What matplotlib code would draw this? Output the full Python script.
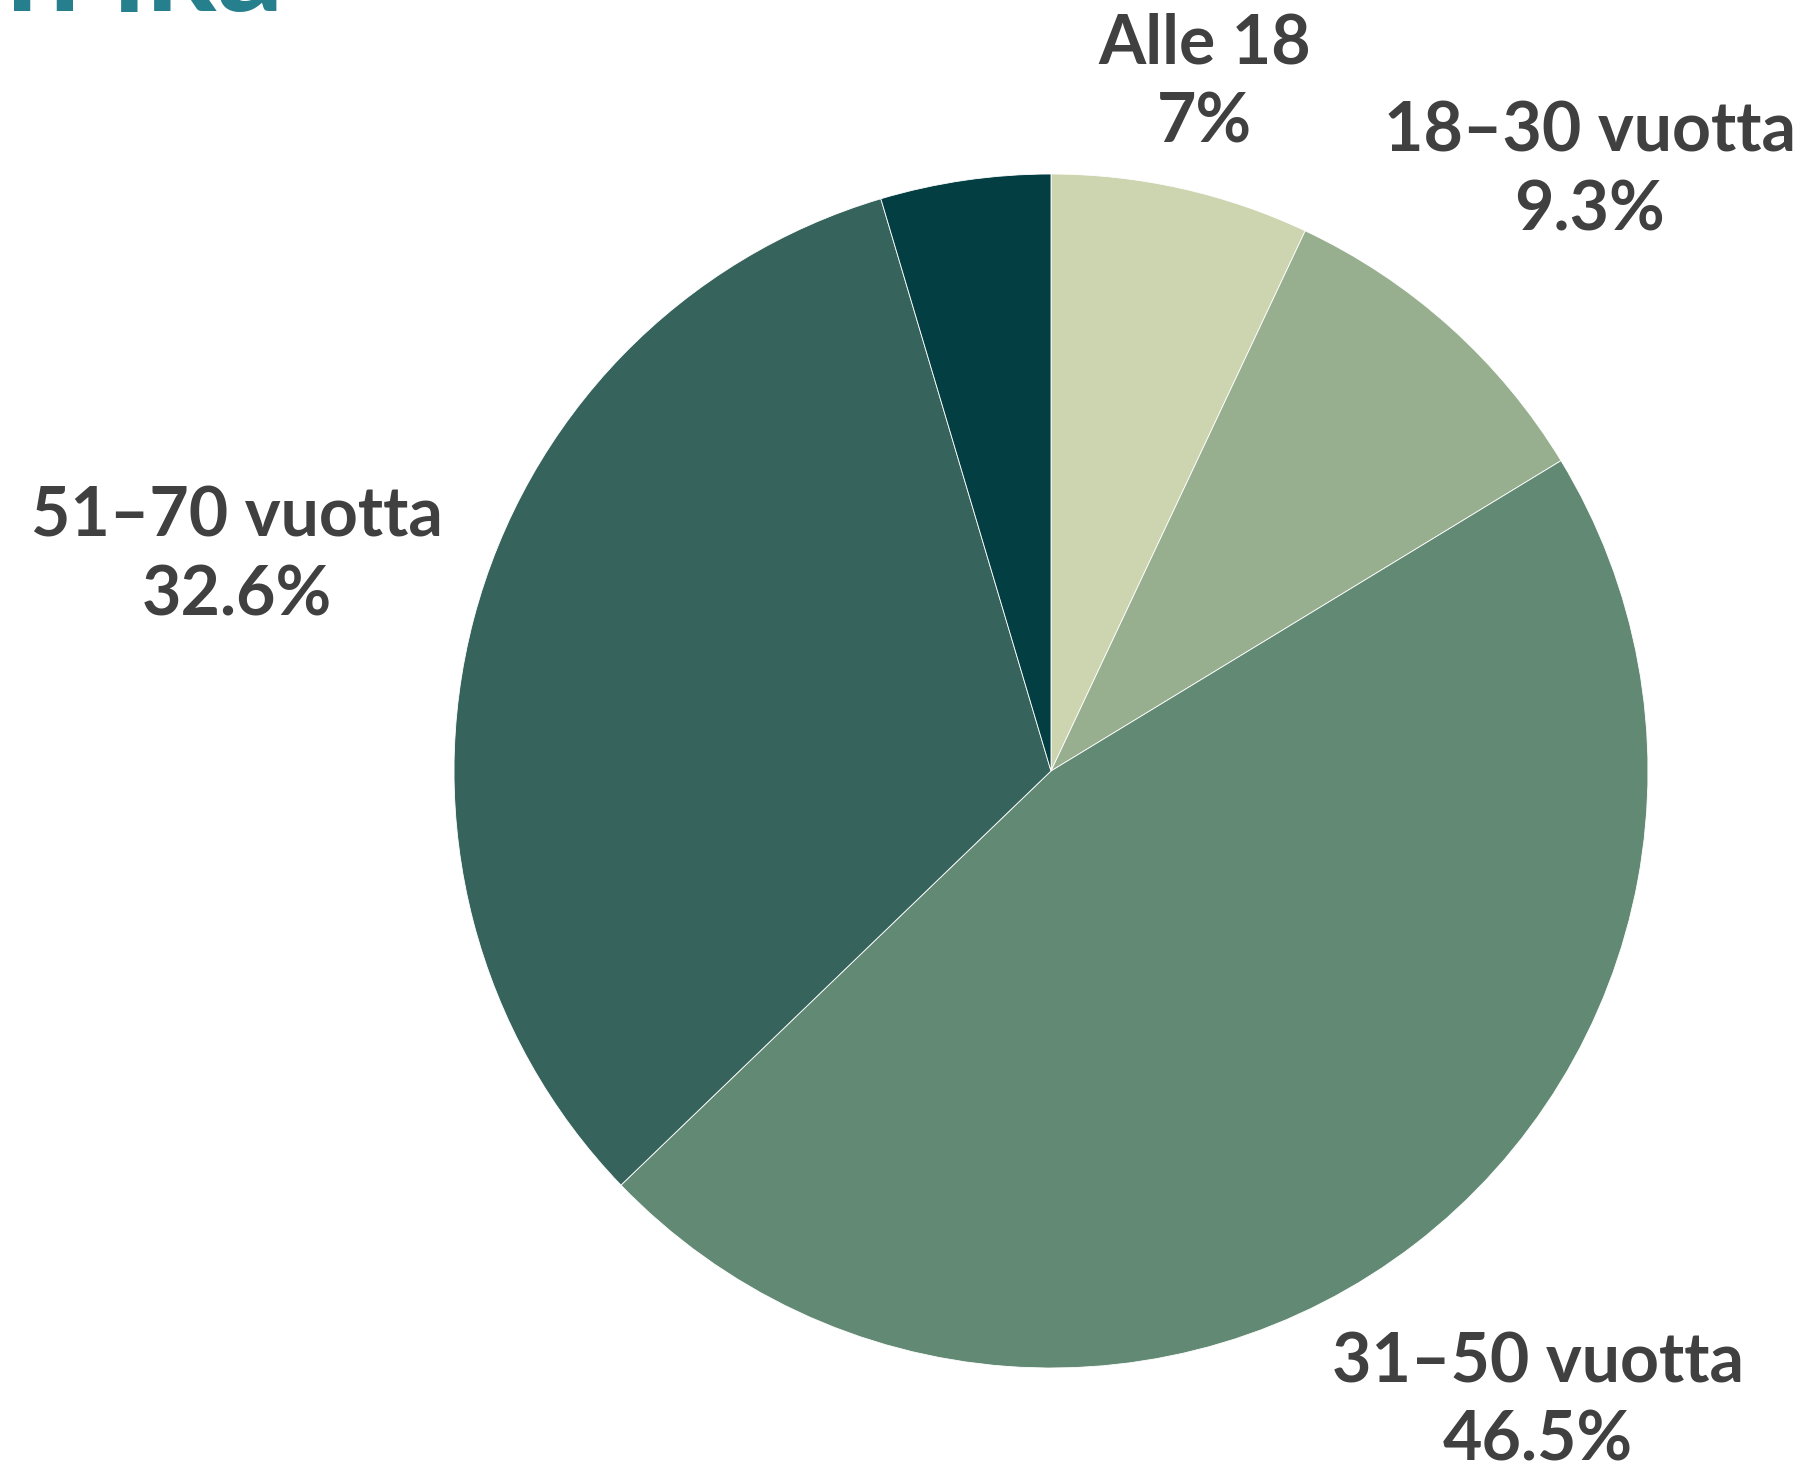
import numpy as np
import matplotlib.pyplot as plt

# data
categories = ["Alle 18", "18–30 vuotta", "31–50 vuotta", "51–70 vuotta", "Yli 70 vuotta"]
shares = [7.0, 9.3, 46.5, 32.6, 4.6]
pct_labels = ["7%", "9.3%", "46.5%", "32.6%", ""]
show_label = [True, True, True, True, False]

# styles / layout
COLORS = ["#CDD5B0", "#97AF8F", "#628973", "#36635C", "#033E42"]
TEXT_COLOR = "#404040"
TITLE_COLOR = "#267F8C"
# label distance from centre, in radii
LABEL_DIST = [1.18, 1.35, 1.335, 1.41, 1.2]

W, H, DPI = 1817, 1475, 100
CX, CY, R = 1051, 771, 597  # pie centre and radius in pixels

plt.rcParams['font.family'] = ['Lato', 'DejaVu Sans']

fig = plt.figure(figsize=(W / DPI, H / DPI), dpi=DPI)
ax = fig.add_axes([0, 0, 1, 1])

wedges, _ = ax.pie(shares, colors=COLORS, startangle=90, counterclock=False,
                   radius=1.0, center=(0, 0), frame=True,
                   wedgeprops=dict(linewidth=0.6, edgecolor='white'))
ax.set_xlim(-CX / R, (W - CX) / R)
ax.set_ylim(-(H - CY) / R, CY / R)
ax.set_aspect('equal')
ax.axis('off')

for w, name, pct, show, dist in zip(wedges, categories, pct_labels, show_label, LABEL_DIST):
    if not show:
        continue
    mid = np.deg2rad((w.theta1 + w.theta2) / 2)
    x, y = dist * np.cos(mid), dist * np.sin(mid)
    ax.text(x, y, f"{name}\n{pct}", ha='center', va='center', fontsize=49,
            fontweight='bold', color=TEXT_COLOR, linespacing=1.3)

# title, mostly cut off at top of the picture
fig.text(6 / W, 1 - 11 / H, "n ikä", ha='left', va='baseline', fontsize=95,
         fontweight='bold', color=TITLE_COLOR)

fig.savefig("out.png", dpi=DPI)
